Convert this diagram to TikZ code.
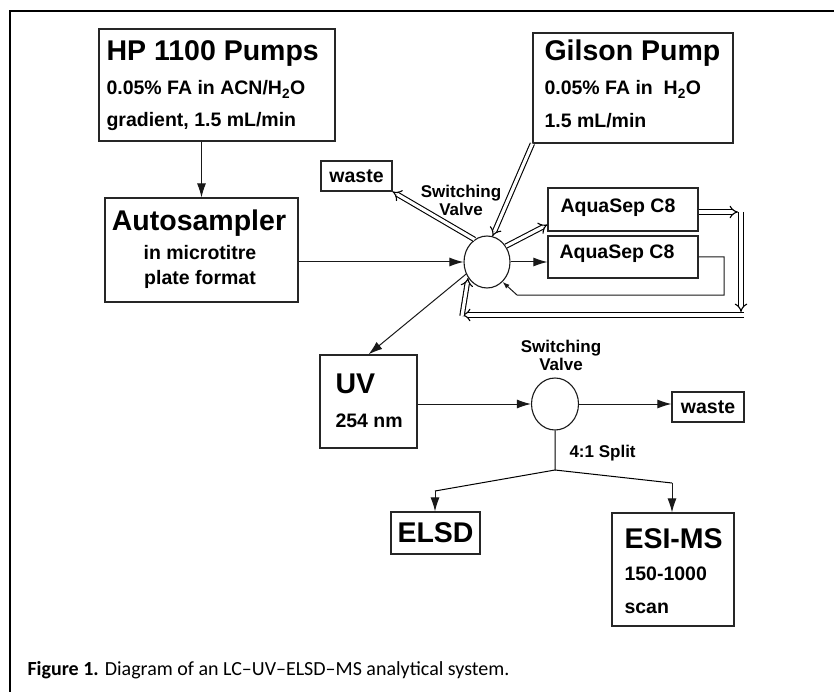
\documentclass[tikz,border=0pt]{standalone}
\usepackage{fontspec}
\setmainfont{Liberation Sans}
\newfontfamily\capfont[Ligatures=TeX]{Carlito}
\usetikzlibrary{arrows.meta,shapes.geometric}

\tikzset{
  box/.style={draw=black!85, line width=1.2pt, inner sep=0pt},
  valve/.style={draw=black!90, ellipse, line width=1.1pt, minimum width=46pt, minimum height=52pt, inner sep=0pt},
  flow/.style={draw=black!90, line width=1pt, -{Latex[length=14pt,width=9pt]}},
  pipe/.style={draw=black, line width=1.1pt, double, double distance=3.2pt, -{Implies[scale=1.7]}},
  hugetxt/.style={font=\fontsize{28.5}{30}\selectfont\bfseries},
  midtxt/.style={font=\fontsize{19.5}{22}\selectfont\bfseries},
  smalltxt/.style={font=\fontsize{17}{19}\selectfont\bfseries},
}

\begin{document}
\begin{tikzpicture}[x=1pt, y=-1pt]
    \useasboundingbox (0,0) rectangle (834,692);
    % Frame
    \draw[line width=1.3pt] (10,692) -- (10,11) -- (834,11);
    % HP pumps
    \node[box, minimum width=236pt, minimum height=112pt] (hp) at (217,85) {};
    \node[hugetxt, anchor=base west] (hpA) at (103,61) {HP 1100 Pumps};
    \node[midtxt, anchor=base west] (hpB) at (103,95) {0.05\% FA in ACN/H\textsubscript{2}O};
    \node[midtxt, anchor=base west] (hpC) at (103,127) {gradient, 1.5 mL/min};
    % Autosampler
    \node[box, minimum width=193pt, minimum height=104pt] (auto) at (201.5,250) {};
    \node[hugetxt, anchor=base] (autoA) at (199,231) {Autosampler};
    \node[midtxt, anchor=base] (autoB) at (200,260) {in microtitre};
    \node[midtxt, anchor=base] (autoC) at (200,284) {plate format};
    % Gilson pump
    \node[box, minimum width=200pt, minimum height=110pt] (gil) at (633,88) {};
    \node[hugetxt, anchor=base west] (gilA) at (541,61) {Gilson Pump};
    \node[midtxt, anchor=base west] (gilB) at (541,95) {0.05\% FA in\ \ H\textsubscript{2}O};
    \node[midtxt, anchor=base west] (gilC) at (541,128) {1.5 mL/min};
    % First switching valve
    \node[valve] (v1) at (487,262) {};
    \node[smalltxt, align=center] (v1T) at (461,200) {Switching\\[-1pt]Valve};
    \node[box, minimum width=71pt, minimum height=30pt, midtxt] (w1) at (356.5,176) {waste};
    % Columns
    \node[box, minimum width=150pt, minimum height=43pt] (col1) at (623,209.5) {};
    \node[midtxt] (col1T) at (618,208) {AquaSep C8};
    \node[box, minimum width=150pt, minimum height=42pt] (col2) at (623,257) {};
    \node[midtxt] (col2T) at (617,254) {AquaSep C8};
    % UV and second valve
    \node[box, minimum width=97pt, minimum height=93pt] (uv) at (368.5,401.5) {};
    \node[hugetxt, anchor=base west] (uvA) at (332,393) {UV};
    \node[midtxt, anchor=base west] (uvB) at (332,427) {254 nm};
    \node[valve, minimum width=47pt] (v2) at (555,404) {};
    \node[smalltxt, align=center] (v2T) at (561,355) {Switching\\[-1pt]Valve};
    \node[box, minimum width=72pt, minimum height=30pt, midtxt] (w2) at (708,407) {waste};
    % Detectors
    \node[box, minimum width=89pt, minimum height=42pt, hugetxt] (elsd) at (435.5,533) {ELSD};
    \node[box, minimum width=122pt, minimum height=113pt] (ms) at (673,569.5) {};
    \node[hugetxt, anchor=base west] (msA) at (621,548) {ESI-MS};
    \node[midtxt, anchor=base west] (msB) at (621,580) {150-1000};
    \node[midtxt, anchor=base west] (msC) at (621,613) {scan};
    \node[smalltxt, anchor=west] (split) at (566,453) {4:1 Split};
    % Caption
    \node[anchor=base west, font=\capfont\fontsize{20}{22}\selectfont] (cap) at (24,675)
        {\textbf{Figure 1.} Diagram of an LC--UV--ELSD--MS analytical system.};
    % Bend points
    \coordinate (r1) at (724,257);
    \coordinate (r2) at (724,295);
    \coordinate (r3) at (517,295);
    \coordinate (c1) at (741,212);
    \coordinate (c2) at (741,315);
    \coordinate (c3) at (462,315);
    \coordinate (sp) at (555,470);
    \coordinate (lb) at (435,491);
    \coordinate (rb) at (672,483);
    % Single lines
    \draw[flow] (auto.north |- hp.south) -- (auto.north);
    \draw[flow] (auto.east |- v1.west) -- (v1.west);
    \draw[flow] (v1.east) -- (v1.east -| col2.west);
    \draw[draw=black!90, line width=1pt, -{Latex[length=7pt,width=5pt]}] (col2.east) -- (r1) -- (r2) -- (r3) -- (v1.-52);
    \draw[flow] (v1.210) -- (uv.north);
    \draw[flow] (uv.east |- v2.west) -- (v2.west);
    \draw[flow] (v2.east) -- (v2.east -| w2.west);
    \draw[line width=1pt] (v2.south) -- (sp) -- (lb);
    \draw[line width=1pt] (sp) -- (rb);
    \draw[flow] (lb) -- (lb |- elsd.north);
    \draw[flow] (rb) -- (rb |- ms.north);
    % Double lines
    \draw[pipe] (v1.119) -- (w1.south east);
    \draw[pipe] (gil.south west) -- (v1.78);
    \draw[pipe] (v1.40) -- ([yshift=7pt]col1.south west);
    \draw[pipe] (col1.east |- c1) -- ([xshift=-3pt]c1);
    \draw[pipe] (c1) -- ([yshift=3pt]c2);
    \draw[pipe] ([xshift=3pt]c2) -- (c3);
    \draw[pipe] ([yshift=-1pt]c3) -- (v1.220);
\end{tikzpicture}
\end{document}
